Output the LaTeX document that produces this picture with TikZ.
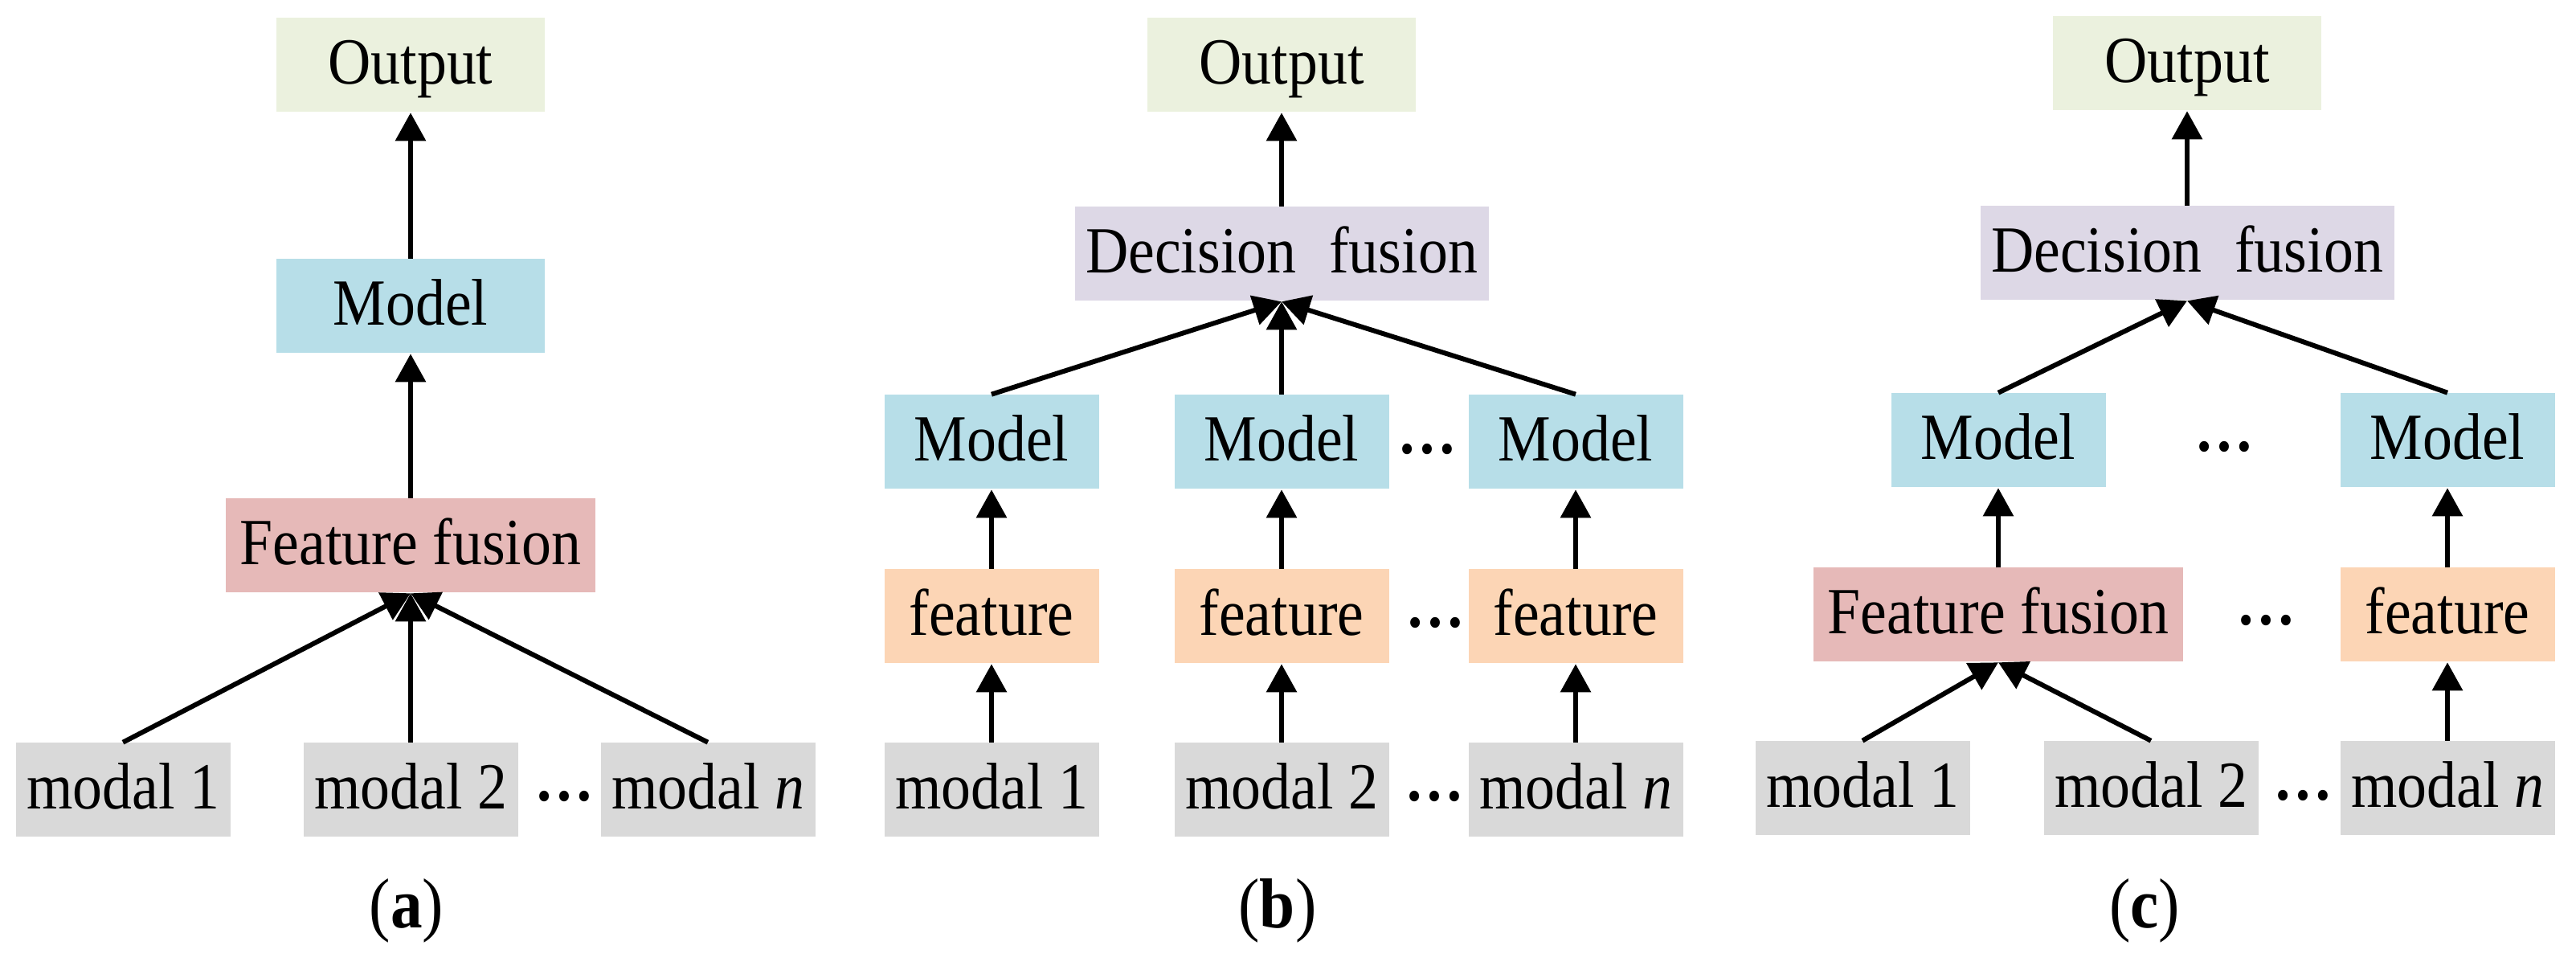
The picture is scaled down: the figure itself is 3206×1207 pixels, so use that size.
\documentclass[tikz,border=0pt]{standalone}
\usepackage{fontspec}
\setmainfont{Liberation Serif}[FakeStretch=0.9]
\usetikzlibrary{arrows.meta}
\definecolor{colOut}{HTML}{EBF1DE}
\definecolor{colMod}{HTML}{B7DEE8}
\definecolor{colFF}{HTML}{E6B9B8}
\definecolor{colMd}{HTML}{D9D9D9}
\definecolor{colDec}{HTML}{DDD8E6}
\definecolor{colFe}{HTML}{FCD5B5}
\begin{document}
\begin{tikzpicture}[x=0.25pt,y=-0.25pt,
  bx/.style={rectangle,inner sep=0pt,minimum height=29.25pt,text height=11.75pt,text depth=0pt,font=\fontsize{20.5}{24}\selectfont},
  sm/.style={bx,minimum width=66.75pt},
  wide/.style={bx,minimum width=83.5pt},
  ffw/.style={bx,minimum width=115pt},
  decw/.style={bx,minimum width=128.75pt},
  arr/.style={line width=1.5pt,-{Triangle[length=8.75pt,width=9.25pt]}},
  dts/.style={inner sep=0pt,anchor=base,font=\fontsize{20.5}{24}\selectfont\bfseries},
  capt/.style={inner sep=0pt,anchor=base,font=\fontsize{22}{26}\selectfont}]
\useasboundingbox (0,0) rectangle (3206,1207);
% ---------- (a)
\node[wide,fill=colOut] (aout) at (511,81) {Output};
\node[wide,fill=colMod] (amod) at (511,381) {Model};
\node[ffw,fill=colFF] (aff) at (511,679) {Feature fusion};
\node[sm,fill=colMd] (ax1) at (153,983) {modal 1};
\node[sm,fill=colMd] (ax2) at (511,983) {modal 2};
\node[sm,fill=colMd] (axn) at (881,983) {modal \textit{n}};
\node[dts] (ad) at (702,997) {…};
\node[capt] (ca) at (506,1155) {(\textbf{a})};
\draw[arr] (ax1.north) -- (aff.south);
\draw[arr] (ax2.north) -- (aff.south);
\draw[arr] (axn.north) -- (aff.south);
\draw[arr] (aff.north) -- (amod.south);
\draw[arr] (amod.north) -- (aout.south);
% ---------- (b)
\node[wide,fill=colOut] (bout) at (1595,81) {Output};
\node[decw,fill=colDec] (bdec) at (1595,316) {Decision\hspace{0.5em}fusion};
\node[sm,fill=colMod] (bm1) at (1234,550) {Model};
\node[sm,fill=colMod] (bm2) at (1595,550) {Model};
\node[sm,fill=colMod] (bmn) at (1961,550) {Model};
\node[sm,fill=colFe] (bf1) at (1234,767) {feature};
\node[sm,fill=colFe] (bf2) at (1595,767) {feature};
\node[sm,fill=colFe] (bfn) at (1961,767) {feature};
\node[sm,fill=colMd] (bx1) at (1234,983) {modal 1};
\node[sm,fill=colMd] (bx2) at (1595,983) {modal 2};
\node[sm,fill=colMd] (bxn) at (1961,983) {modal \textit{n}};
\node[dts] (bd1) at (1776,565) {…};
\node[dts] (bd2) at (1786,781) {…};
\node[dts] (bd3) at (1785,997) {…};
\node[capt] (cb) at (1590,1155) {(\textbf{b})};
\draw[arr] (bx1.north) -- (bf1.south);
\draw[arr] (bx2.north) -- (bf2.south);
\draw[arr] (bxn.north) -- (bfn.south);
\draw[arr] (bf1.north) -- (bm1.south);
\draw[arr] (bf2.north) -- (bm2.south);
\draw[arr] (bfn.north) -- (bmn.south);
\draw[arr] (bm1.north) -- (bdec.south);
\draw[arr] (bm2.north) -- (bdec.south);
\draw[arr] (bmn.north) -- (bdec.south);
\draw[arr] (bdec.north) -- (bout.south);
% ---------- (c)
\node[wide,fill=colOut] (cout) at (2722,79) {Output};
\node[decw,fill=colDec] (cdec) at (2722,315) {Decision\hspace{0.5em}fusion};
\node[sm,fill=colMod] (cm1) at (2487,548) {Model};
\node[sm,fill=colMod] (cmn) at (3046,548) {Model};
\node[ffw,fill=colFF] (cff) at (2487,765) {Feature fusion};
\node[sm,fill=colFe] (cfn) at (3046,765) {feature};
\node[sm,fill=colMd] (cx1) at (2318,981) {modal 1};
\node[sm,fill=colMd] (cx2) at (2677,981) {modal 2};
\node[sm,fill=colMd] (cxn) at (3046,981) {modal \textit{n}};
\node[dts] (cd1) at (2768,562) {…};
\node[dts] (cd2) at (2820,778) {…};
\node[dts] (cd3) at (2866,996) {…};
\node[capt] (cc) at (2669,1155) {(\textbf{c})};
\draw[arr] (cx1.north) -- (cff.south);
\draw[arr] (cx2.north) -- (cff.south);
\draw[arr] (cxn.north) -- (cfn.south);
\draw[arr] (cff.north) -- (cm1.south);
\draw[arr] (cfn.north) -- (cmn.south);
\draw[arr] (cm1.north) -- (cdec.south);
\draw[arr] (cmn.north) -- (cdec.south);
\draw[arr] (cdec.north) -- (cout.south);
\end{tikzpicture}
\end{document}
